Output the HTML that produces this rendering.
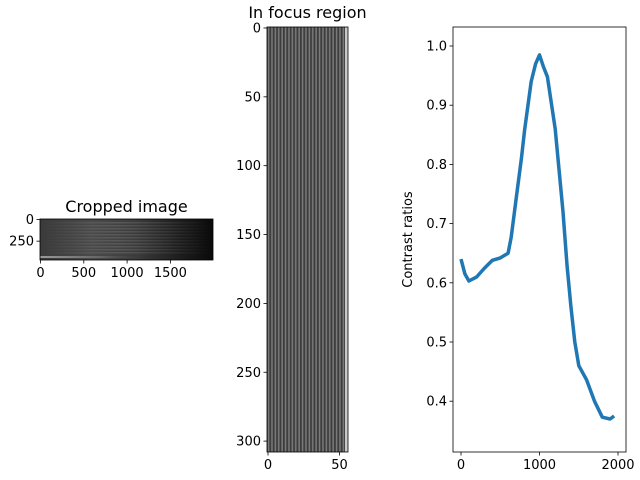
<!DOCTYPE html>
<html><head><meta charset="utf-8"><style>
body{margin:0;background:#fff;}
svg{display:block;font-family:"DejaVu Sans","Liberation Sans",sans-serif;}
</style></head><body>
<svg id="fig" width="640" height="480">
<defs>
<linearGradient id="cropH" x1="0" x2="1" y1="0" y2="0">
<stop offset="0" stop-color="#3a3a3a"/><stop offset="0.3" stop-color="#4a4a4a"/><stop offset="0.55" stop-color="#3c3c3c"/><stop offset="0.8" stop-color="#1e1e1e"/><stop offset="1" stop-color="#0a0a0a"/>
</linearGradient>
<pattern id="hstripes" width="4" height="3" patternUnits="userSpaceOnUse">
<rect width="4" height="1.5" fill="rgba(255,255,255,0.12)"/>
</pattern>
<linearGradient id="stripeFade" x1="0" x2="1"><stop offset="0" stop-color="#fff" stop-opacity="0"/><stop offset="0.45" stop-color="#fff" stop-opacity="1"/><stop offset="0.75" stop-color="#fff" stop-opacity="0.6"/><stop offset="1" stop-color="#fff" stop-opacity="0"/></linearGradient>
<mask id="fadeMask"><rect x="40" y="219" width="173" height="41" fill="url(#stripeFade)"/></mask>
<linearGradient id="bottomFade" x1="0" x2="1"><stop offset="0" stop-color="#999"/><stop offset="0.5" stop-color="#666"/><stop offset="1" stop-color="#222" stop-opacity="0"/></linearGradient>
<pattern id="vstripes" x="267" width="3.4" height="10" patternUnits="userSpaceOnUse">
<rect width="3.4" height="10" fill="#3c3c3c"/><rect x="0.8" width="1.5" height="10" fill="#7c7c7c"/>
</pattern>
</defs>

<g>
<text x="126.5" y="212" text-anchor="middle" font-size="16">Cropped image</text>
<rect x="40" y="219" width="173" height="41" fill="url(#cropH)"/>
<rect x="40" y="222" width="173" height="32" fill="url(#hstripes)" mask="url(#fadeMask)"/>
<rect x="40" y="256" width="120" height="2" fill="url(#bottomFade)"/>
<rect x="40" y="219" width="173" height="41" fill="none" stroke="#000" stroke-width="0.8"/>
<g id="cropTicks" font-size="13"></g>
</g>

<g>
<text x="307.5" y="18" text-anchor="middle" font-size="16">In focus region</text>
<rect x="267" y="27" width="81" height="425" fill="url(#vstripes)"/>
<rect x="345" y="27" width="3" height="425" fill="#c8c8c8"/>
<rect x="267" y="27" width="81" height="425" fill="none" stroke="#000" stroke-width="0.8"/>
<g id="focusTicks" font-size="13"></g>
</g>

<g>
<rect x="453" y="27" width="173" height="425" fill="none" stroke="#000" stroke-width="0.8"/>
<text transform="translate(412,239.5) rotate(-90)" text-anchor="middle" font-size="13">Contrast ratios</text>
<g id="contrastTicks" font-size="13"></g>
<path id="contrastLine" fill="none" stroke="#1f77b4" stroke-width="3.5" stroke-linejoin="round"/>
</g>
</svg>
<script>
const xPos = [0,50,100,200,300,400,500,600,640,700,770,810,894,950,1000,1050,1100,1200,1250,1300,1350,1400,1450,1500,1600,1700,1800,1900,1950];
const contrast = [0.64,0.615,0.603,0.61,0.625,0.638,0.642,0.65,0.677,0.74,0.81,0.858,0.94,0.97,0.985,0.965,0.948,0.86,0.79,0.72,0.63,0.56,0.5,0.46,0.436,0.40,0.373,0.37,0.375];
const contrastXTicks = [0,1000,2000];
const contrastYTicks = [0.4,0.5,0.6,0.7,0.8,0.9,1.0];
const cropXTicks = [0,500,1000,1500];
const cropYTicks = [0,250];
const focusXTicks = [0,50];
const focusYTicks = [0,50,100,150,200,250,300];

const NS='http://www.w3.org/2000/svg';
const cx = v => 461 + v*0.0785;
const cy = v => 46 + (1.0 - v)*592;
const cropX = v => 40.5 + v*0.0866;
const cropY = v => 219.5 + v*0.0866;
const fX = v => 268 + v*1.43;
const fY = v => 28 + v*1.377;

function mk(tag, attrs, parent){const e=document.createElementNS(NS,tag);for(const k in attrs)e.setAttribute(k,attrs[k]);parent.appendChild(e);return e;}

function xTicks(g, ticks, fx, y0){
  ticks.forEach(t=>{const x=fx(t);
    const l=mk('line',{x1:x,x2:x,y1:y0,y2:y0+3.5,stroke:'#000','stroke-width':0.8},g);
    
    
    const tx=mk('text',{x:x,y:y0+17,'text-anchor':'middle'},g);tx.textContent=t;
    
    
  });
}
function yTicks(g, ticks, fy, x0, fmt){
  ticks.forEach(t=>{const y=fy(t);
    const l=mk('line',{x1:x0-3.5,x2:x0,y1:y,y2:y,stroke:'#000','stroke-width':0.8},g);
    
    
    const tx=mk('text',{x:x0-6,y:y+4.5,'text-anchor':'end'},g);tx.textContent=fmt?fmt(t):t;
    
    
  });
}
const ct=document.getElementById('contrastTicks');
xTicks(ct, contrastXTicks, cx, 452);
yTicks(ct, contrastYTicks, cy, 453, v=>v.toFixed(1));
const kt=document.getElementById('cropTicks');
xTicks(kt, cropXTicks, cropX, 260);
yTicks(kt, cropYTicks, cropY, 40);
const ft=document.getElementById('focusTicks');
xTicks(ft, focusXTicks, fX, 452);
yTicks(ft, focusYTicks, fY, 267);

document.getElementById('contrastLine').setAttribute('d', xPos.map((x,i)=>(i?'L':'M')+cx(x).toFixed(1)+','+cy(contrast[i]).toFixed(1)).join(''));
</script>
</body></html>
